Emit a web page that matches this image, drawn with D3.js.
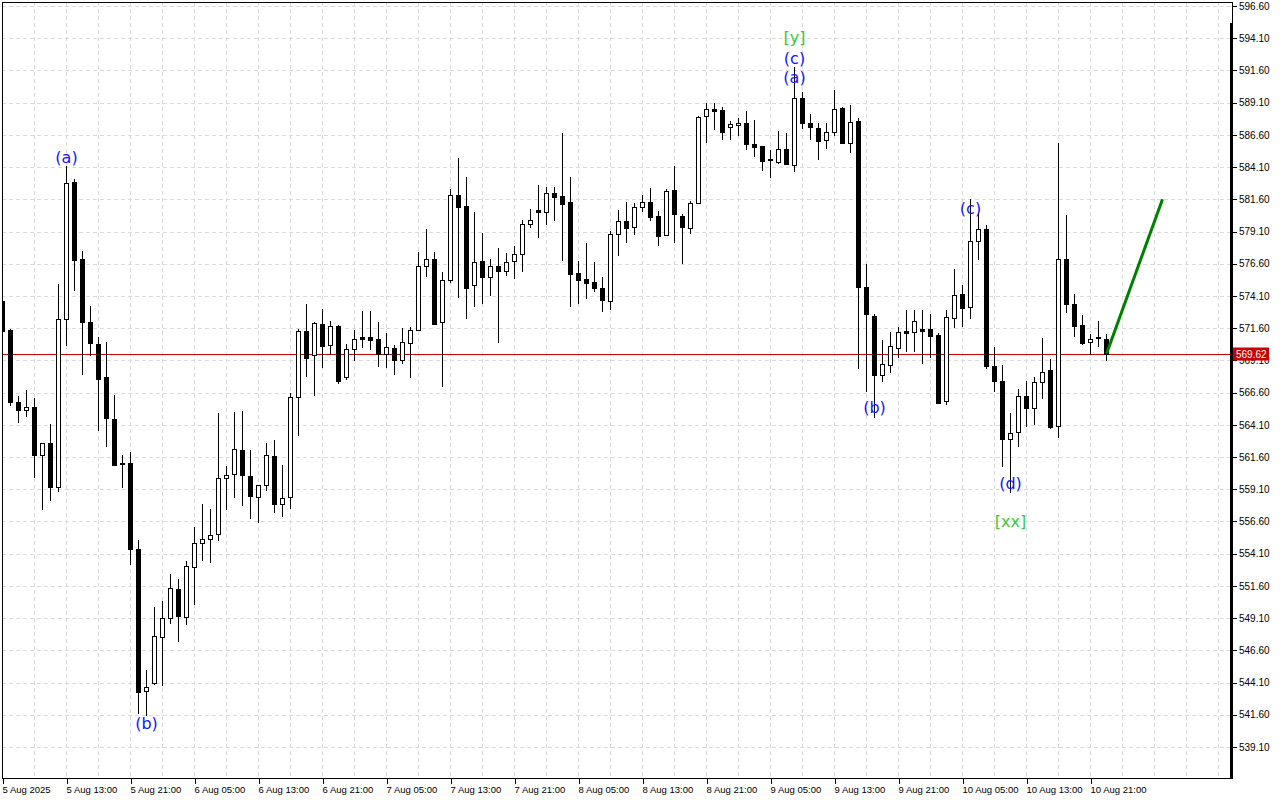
<!DOCTYPE html>
<html>
<head>
<meta charset="utf-8">
<script src="https://cdn.jsdelivr.net/npm/d3@7"></script>
<style>
  body { margin: 0; background: #fff; }
  svg { display: block; }
</style>
</head>
<body>
<div id="chart"></div>
<script>
// hourly bars, bar 0 = 5 Aug 2025 05:00
var opens = [573.73,571.44,565.86,565.24,565.48,561.79,562.68,559.24,572.30,582.94,
  576.97,572.07,570.37,567.79,564.58,561.14,561.11,554.49,543.41,544.04,
  547.66,549.08,551.34,549.20,553.03,554.96,555.22,555.61,559.95,560.26,
  562.15,560.13,558.47,559.41,561.68,557.93,558.47,566.24,571.38,569.49,
  571.92,570.27,571.75,567.83,569.96,570.89,570.89,570.74,569.57,570.04,
  569.11,570.43,571.44,576.40,576.97,572.06,575.36,581.91,581.06,574.93,
  576.79,575.55,576.40,576.01,576.79,577.33,579.66,580.77,580.59,582.07,
  581.83,581.37,575.86,575.39,575.16,574.69,573.69,578.88,579.89,579.43,
  580.98,581.37,580.28,578.81,582.30,580.33,579.37,581.34,588.07,588.58,
  588.53,587.19,587.34,587.50,585.87,585.71,584.70,584.52,585.48,584.24,
  589.44,587.50,587.13,586.20,586.80,588.66,585.95,587.68,574.82,572.54,
  567.94,568.72,570.04,571.36,571.28,571.51,571.51,571.07,565.93,572.39,
  574.25,573.22,578.34,579.27,568.69,567.48,562.98,563.52,566.31,565.43,
  567.40,568.33,563.98,576.94,573.45,571.82,570.50,570.92,570.78];

var highs = [573.94,571.56,566.31,566.81,566.16,562.68,564.16,575.04,584.19,583.18,
  577.59,573.31,570.91,570.53,566.42,561.79,561.97,555.14,545.08,549.97,
  550.41,552.49,552.11,553.53,556.21,557.99,557.55,565.00,560.91,565.10,
  565.17,562.15,559.41,562.67,562.92,560.98,566.55,571.54,573.48,572.06,
  573.09,572.16,571.85,570.37,571.46,572.93,572.93,572.08,571.19,570.27,
  571.61,571.69,577.51,579.30,577.51,575.96,582.40,584.78,583.31,580.59,
  578.99,576.94,577.82,577.41,578.00,579.97,580.85,582.71,582.53,582.53,
  586.75,583.31,576.79,578.19,576.71,575.55,579.16,580.75,581.37,581.29,
  581.93,582.45,580.67,582.42,584.16,580.46,581.49,588.07,589.05,589.07,
  588.74,587.68,587.93,588.45,587.75,585.76,585.43,586.90,586.72,591.89,
  589.90,588.20,587.55,587.50,590.08,588.74,588.92,587.89,576.56,572.68,
  570.68,571.28,571.71,573.01,573.01,573.01,572.68,571.20,573.01,576.17,
  574.93,581.62,580.51,579.58,570.16,568.74,565.02,566.86,567.50,567.79,
  570.84,569.19,585.97,580.41,574.25,572.62,571.13,572.16,571.15];

var lows = [571.23,565.65,564.34,564.76,560.07,557.55,558.23,558.94,570.26,574.56,
  568.03,569.48,563.69,562.44,560.96,559.30,553.32,541.75,541.57,543.97,
  543.89,548.72,547.30,548.67,550.21,553.63,553.48,555.16,557.55,558.52,
  557.90,556.89,556.58,559.04,557.36,557.00,557.67,563.33,567.89,566.44,
  568.61,569.62,567.37,567.68,569.13,570.14,569.98,568.67,568.61,568.07,
  568.92,567.81,571.44,575.67,571.95,567.14,575.21,574.04,572.41,573.34,
  573.58,574.20,570.55,575.75,575.52,576.04,579.47,578.65,579.71,580.02,
  576.87,573.30,573.58,573.96,574.51,572.96,573.11,577.28,578.31,578.93,
  580.67,580.02,578.08,578.81,578.31,576.68,579.01,581.29,586.07,587.08,
  586.26,586.26,586.59,585.48,584.98,583.87,583.35,584.39,584.32,583.82,
  587.16,586.26,584.70,585.56,586.59,585.95,585.25,568.49,566.75,564.73,
  567.48,568.22,569.34,569.85,569.85,568.87,569.34,565.82,565.69,571.71,
  571.79,572.37,576.94,568.53,566.75,560.93,558.91,562.48,564.03,564.19,
  566.21,563.83,563.13,572.83,571.01,570.35,569.57,570.24,569.13];

var closes = [571.35,565.86,565.24,565.48,561.79,562.68,559.24,572.30,582.87,576.91,
  572.10,570.47,567.67,564.65,561.02,561.10,554.43,543.38,543.79,547.68,
  549.08,551.40,549.23,553.12,554.90,555.26,555.53,559.95,560.18,562.20,
  560.18,558.55,559.41,561.74,557.93,558.40,566.24,571.38,569.31,572.00,
  570.24,571.75,567.52,569.96,570.74,570.78,570.71,569.57,570.12,569.11,
  570.50,571.44,576.40,576.94,571.95,575.31,581.91,581.03,574.74,576.71,
  575.55,576.40,576.01,576.76,577.33,579.66,579.97,580.59,582.07,581.80,
  581.26,575.83,575.36,575.13,574.69,573.76,578.88,579.89,579.40,580.98,
  581.37,580.25,578.78,582.22,580.44,579.43,581.34,587.96,588.58,588.48,
  586.85,587.42,587.50,585.87,585.68,584.60,584.63,585.48,584.32,589.44,
  587.50,587.19,586.15,586.80,588.58,585.95,587.62,574.82,572.68,567.93,
  568.80,570.22,571.28,571.25,572.18,571.40,571.01,565.82,572.44,574.15,
  573.14,578.34,579.27,568.69,567.48,562.98,563.44,566.31,565.43,567.42,
  568.18,563.93,576.94,573.45,571.79,570.47,570.78,570.84,569.62];

var timeTickBars = [0,8,16,24,32,40,48,56,64,72,80,88,96,104,112,120,128,136];
var timeTickLabels = ["5 Aug 2025","5 Aug 13:00","5 Aug 21:00","6 Aug 05:00","6 Aug 13:00",
  "6 Aug 21:00","7 Aug 05:00","7 Aug 13:00","7 Aug 21:00","8 Aug 05:00","8 Aug 13:00",
  "8 Aug 21:00","9 Aug 05:00","9 Aug 13:00","9 Aug 21:00","10 Aug 05:00","10 Aug 13:00","10 Aug 21:00"];

var priceTicks = [539.10,541.60,544.10,546.60,549.10,551.60,554.10,556.60,559.10,561.60,
  564.10,566.60,569.10,571.60,574.10,576.60,579.10,581.60,584.10,586.60,589.10,591.60,594.10,596.60];

var lastPrice = 569.62;

// wave labels: bar, price, text, colour group
var waveBars   = [8, 18, 99, 99, 99, 109, 121, 126, 126];
var wavePrices = [584.88, 540.96, 594.19, 592.56, 591.09, 565.48, 580.93, 559.59, 556.64];
var waveTexts  = ["(a)", "(b)", "[y]", "(c)", "(a)", "(b)", "(c)", "(d)", "[xx]"];
var waveKinds  = ["minor","minor","major","minor","minor","minor","minor","minor","major"];

// forecast arrow
var forecastBars   = [138, 145];
var forecastPrices = [569.62, 581.6];

var W = 1280, H = 800;
var plotL = 2, plotR = 1232, plotT = 2, plotB = 778;

var x = d3.scaleLinear().domain([0, 153.75]).range([plotL, plotR]);
var y = d3.scaleLinear().domain([539.1, 596.6]).range([747, 6]);

var svg = d3.select("#chart").append("svg")
  .attr("width", W).attr("height", H)
  .style("font-family", "'Liberation Sans', Arial, sans-serif");

svg.append("rect").attr("width", W).attr("height", H).attr("fill", "#fff");

svg.append("clipPath").attr("id", "plot")
  .append("rect").attr("x", plotL + 1).attr("y", plotT + 1)
  .attr("width", plotR - plotL - 2).attr("height", plotB - plotT - 1);

// grid
var grid = svg.append("g").attr("clip-path", "url(#plot)")
  .attr("stroke", "#dcdcdc").attr("stroke-dasharray", "4,3")
  .attr("shape-rendering", "crispEdges");

grid.selectAll(".hg").data(priceTicks).enter().append("line")
  .attr("x1", plotL).attr("x2", plotR)
  .attr("y1", function(d) { return Math.round(y(d)) + 0.5; })
  .attr("y2", function(d) { return Math.round(y(d)) + 0.5; });

grid.selectAll(".vg").data(d3.range(4, 154, 4)).enter().append("line")
  .attr("y1", plotT).attr("y2", plotB)
  .attr("x1", function(d) { return Math.round(x(d)) + 0.5; })
  .attr("x2", function(d) { return Math.round(x(d)) + 0.5; });

// current price line
svg.append("line")
  .attr("x1", plotL).attr("x2", plotR)
  .attr("y1", Math.round(y(lastPrice)) + 0.5).attr("y2", Math.round(y(lastPrice)) + 0.5)
  .attr("stroke", "#d00000").attr("shape-rendering", "crispEdges");

// candles
var bars = d3.range(opens.length);
var cg = svg.append("g").attr("clip-path", "url(#plot)").attr("shape-rendering", "crispEdges");

cg.selectAll(".wick").data(bars).enter().append("line")
  .attr("x1", function(i) { return Math.round(x(i)) + 0.5; })
  .attr("x2", function(i) { return Math.round(x(i)) + 0.5; })
  .attr("y1", function(i) { return Math.round(y(highs[i])); })
  .attr("y2", function(i) { return Math.round(y(lows[i])) + 1; })
  .attr("stroke", "#000");

cg.selectAll(".body").data(bars).enter().append("rect")
  .attr("x", function(i) {
    var up = closes[i] > opens[i];
    return Math.round(x(i)) - 2 + (up ? 0.5 : 0);
  })
  .attr("y", function(i) {
    var up = closes[i] > opens[i];
    return Math.round(y(Math.max(opens[i], closes[i]))) + (up ? 0.5 : 0);
  })
  .attr("width", function(i) { return closes[i] > opens[i] ? 4 : 5; })
  .attr("height", function(i) {
    var h = Math.round(y(Math.min(opens[i], closes[i]))) - Math.round(y(Math.max(opens[i], closes[i])));
    return closes[i] > opens[i] ? Math.max(h, 1) : Math.max(h, 1) + 1;
  })
  .attr("fill", function(i) { return closes[i] > opens[i] ? "#fff" : "#000"; })
  .attr("stroke", function(i) { return closes[i] > opens[i] ? "#000" : "none"; });

// forecast line
svg.append("line")
  .attr("x1", x(forecastBars[0]) + 0.5).attr("y1", y(forecastPrices[0]))
  .attr("x2", x(forecastBars[1]) + 0.5).attr("y2", y(forecastPrices[1]))
  .attr("stroke", "#008000").attr("stroke-width", 3);

// wave labels
svg.append("g").selectAll("text").data(waveTexts).enter().append("text")
  .attr("x", function(d, i) { return x(waveBars[i]) + 0.5; })
  .attr("y", function(d, i) { return y(wavePrices[i]); })
  .attr("dy", "0.36em")
  .attr("text-anchor", "middle")
  .style("font-family", "'DejaVu Sans', Verdana, sans-serif")
  .style("font-size", "16px")
  .attr("fill", function(d, i) { return waveKinds[i] === "major" ? "#3cc83c" : "#1414ff"; })
  .text(function(d) { return d; });

// frame
svg.append("rect")
  .attr("x", plotL + 0.5).attr("y", plotT + 0.5)
  .attr("width", plotR - plotL).attr("height", plotB - plotT)
  .attr("fill", "none").attr("stroke", "#000").attr("shape-rendering", "crispEdges");

svg.append("line")
  .attr("x1", plotR - 0.5).attr("x2", plotR - 0.5)
  .attr("y1", 23).attr("y2", plotB + 1)
  .attr("stroke", "#000").attr("stroke-width", 3);

// price axis
var yAxis = d3.axisRight(y).tickValues(priceTicks).tickFormat(d3.format(".2f")).tickSize(4).tickPadding(2);
var ya = svg.append("g").attr("transform", "translate(" + (plotR + 1) + ",0)").call(yAxis);
ya.select(".domain").remove();
ya.selectAll("line").attr("stroke", "#000").attr("shape-rendering", "crispEdges");
ya.selectAll("text").attr("fill", "#000").style("font-size", "10px")
  .style("font-family", "'Liberation Sans', Arial, sans-serif");

// time axis
var xAxis = d3.axisBottom(x).tickValues(timeTickBars)
  .tickFormat(function(d, i) { return timeTickLabels[i]; }).tickSize(5).tickPadding(2);
var xa = svg.append("g").attr("transform", "translate(0," + (plotB + 1) + ")").call(xAxis);
xa.select(".domain").remove();
xa.selectAll("line").attr("stroke", "#000").attr("shape-rendering", "crispEdges")
  .attr("transform", "translate(0.5,0)");
xa.selectAll("text").attr("fill", "#000").attr("text-anchor", "start").attr("x", 0)
  .style("font-size", "9.5px")
  .style("font-family", "'Liberation Sans', Arial, sans-serif");

// last price tag (sits over the 569.10 label, as in the terminal)
var tag = svg.append("g").attr("transform", "translate(" + (plotR + 1) + "," + Math.round(y(lastPrice)) + ")");
tag.append("rect").attr("x", 0).attr("y", -6.5).attr("width", 36).attr("height", 13).attr("fill", "#cc0000");
tag.append("text").attr("x", 3).attr("y", 0).attr("dy", "0.35em")
  .attr("fill", "#fff").style("font-size", "10px").text(d3.format(".2f")(lastPrice));
</script>
</body>
</html>
